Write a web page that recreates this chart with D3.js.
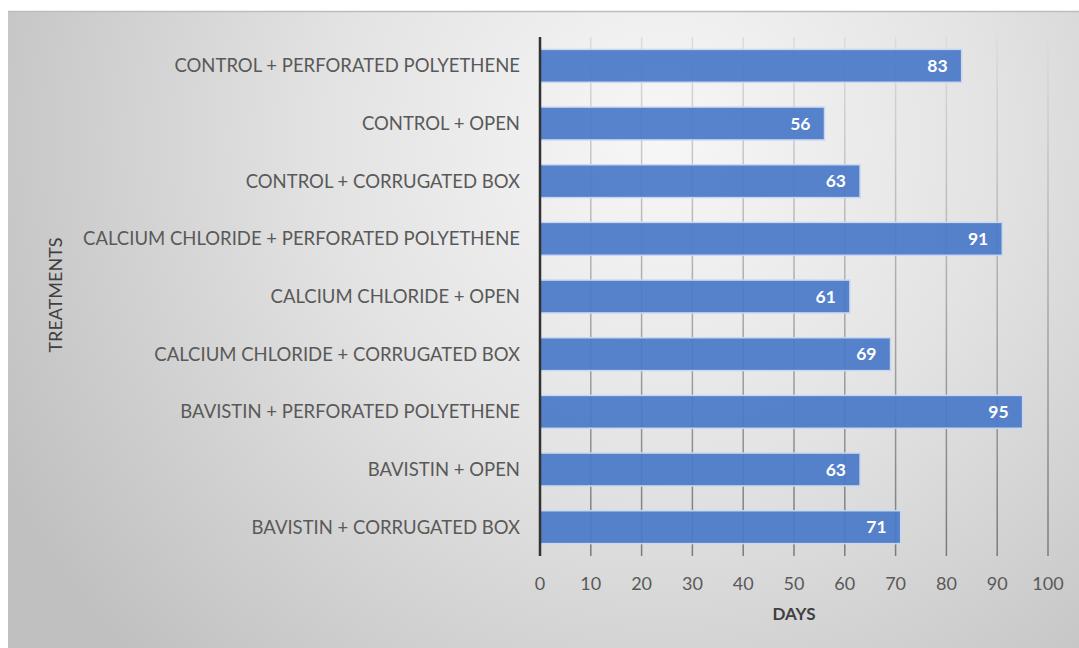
<!DOCTYPE html>
<html>
<head>
<meta charset="utf-8">
<script src="https://cdn.jsdelivr.net/npm/d3@7"></script>
<style>
  body { margin: 0; background: #fff; }
  svg text { font-family: Lato, "Open Sans", sans-serif; }
</style>
</head>
<body>
<div id="chart"></div>
<script>
var treatments = [
    "CONTROL + PERFORATED POLYETHENE",
    "CONTROL + OPEN",
    "CONTROL + CORRUGATED BOX",
    "CALCIUM CHLORIDE + PERFORATED POLYETHENE",
    "CALCIUM CHLORIDE + OPEN",
    "CALCIUM CHLORIDE + CORRUGATED BOX",
    "BAVISTIN + PERFORATED POLYETHENE",
    "BAVISTIN + OPEN",
    "BAVISTIN + CORRUGATED BOX"
];
var days = [83, 56, 63, 91, 61, 69, 95, 63, 71];
var xTicks = [0, 10, 20, 30, 40, 50, 60, 70, 80, 90, 100];

var width = 1079, height = 648;
var plotLeft = 540, plotRight = 1048, plotTop = 37, plotBottom = 556;

var svg = d3.select("#chart").append("svg")
    .attr("width", width)
    .attr("height", height);

var defs = svg.append("defs");
var bg = defs.append("radialGradient")
    .attr("id", "bg")
    .attr("gradientUnits", "userSpaceOnUse")
    .attr("cx", 660).attr("cy", 140).attr("r", 740);
bg.append("stop").attr("offset", "0%").attr("stop-color", "#f7f7f7");
bg.append("stop").attr("offset", "45%").attr("stop-color", "#e3e3e3");
bg.append("stop").attr("offset", "100%").attr("stop-color", "#c0c0c0");

var gridGrad = defs.append("linearGradient")
    .attr("id", "grid")
    .attr("gradientUnits", "userSpaceOnUse")
    .attr("x1", 0).attr("y1", plotTop).attr("x2", 0).attr("y2", plotBottom);
gridGrad.append("stop").attr("offset", "0%").attr("stop-color", "#dcdcdc");
gridGrad.append("stop").attr("offset", "100%").attr("stop-color", "#7a7a7a");

// chart background and top border
svg.append("rect")
    .attr("x", 8).attr("y", 11)
    .attr("width", width - 8).attr("height", height - 11)
    .attr("fill", "url(#bg)");
svg.append("line")
    .attr("x1", 8).attr("x2", width)
    .attr("y1", 11.5).attr("y2", 11.5)
    .attr("stroke", "#bdbdbd")
    .attr("stroke-width", 1.5);

var x = d3.scaleLinear().domain([0, 100]).range([plotLeft, plotRight]);
var y = d3.scaleBand().domain(treatments).range([plotTop, plotBottom]).paddingInner(0.43).paddingOuter(0.215);

// gridlines
svg.append("g")
    .selectAll("line")
    .data(xTicks.slice(1))
    .enter()
    .append("line")
    .attr("x1", function(d){ return x(d); })
    .attr("x2", function(d){ return x(d); })
    .attr("y1", plotTop)
    .attr("y2", plotBottom)
    .attr("stroke", "url(#grid)")
    .attr("stroke-width", 1.5);

// bars
svg.append("g")
    .selectAll("rect")
    .data(days)
    .enter()
    .append("rect")
    .attr("x", x(0))
    .attr("y", function(d, i){ return y(treatments[i]); })
    .attr("width", function(d){ return x(d) - x(0); })
    .attr("height", y.bandwidth())
    .attr("fill", "#4a78c8")
    .attr("fill-opacity", 0.93)
    .attr("stroke", "#c9d7f0")
    .attr("stroke-width", 1.5);

// value labels
svg.append("g")
    .selectAll("text")
    .data(days)
    .enter()
    .append("text")
    .attr("x", function(d){ return x(d) - 14; })
    .attr("y", function(d, i){ return y(treatments[i]) + y.bandwidth() / 2; })
    .attr("dy", "0.36em")
    .attr("text-anchor", "end")
    .attr("fill", "#ffffff")
    .style("font-size", "17.5px")
    .style("font-weight", "bold")
    .text(function(d){ return d; });

// axis line
svg.append("line")
    .attr("x1", plotLeft).attr("x2", plotLeft)
    .attr("y1", plotTop).attr("y2", plotBottom)
    .attr("stroke", "#333333")
    .attr("stroke-width", 2.5);

// category labels
svg.append("g")
    .selectAll("text")
    .data(treatments)
    .enter()
    .append("text")
    .attr("x", 520)
    .attr("y", function(d){ return y(d) + y.bandwidth() / 2; })
    .attr("dy", "0.36em")
    .attr("text-anchor", "end")
    .attr("fill", "#595959")
    .style("font-size", "18.5px")
    .text(function(d){ return d; });

// x tick labels
svg.append("g")
    .selectAll("text")
    .data(xTicks)
    .enter()
    .append("text")
    .attr("x", function(d){ return x(d); })
    .attr("y", 590)
    .attr("text-anchor", "middle")
    .attr("fill", "#595959")
    .style("font-size", "18px")
    .text(function(d){ return d; });

// axis titles
svg.append("text")
    .attr("x", 794).attr("y", 620)
    .attr("text-anchor", "middle")
    .attr("fill", "#404040")
    .style("font-size", "17px")
    .style("font-weight", "bold")
    .text("DAYS");

svg.append("text")
    .attr("transform", "translate(62,295) rotate(-90)")
    .attr("text-anchor", "middle")
    .attr("fill", "#404040")
    .style("font-size", "18px")
    .text("TREATMENTS");
</script>
</body>
</html>
